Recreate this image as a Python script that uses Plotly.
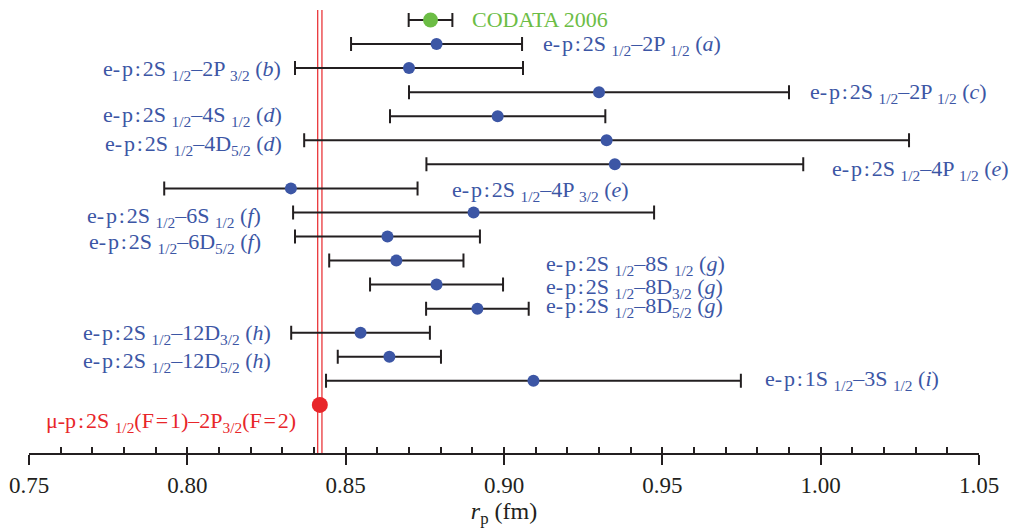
import plotly.graph_objects as go

# ---- data ----
HS = "\u200a"  # hair space
labels = [
    "CODATA 2006",
    f"e-{HS}p{HS}:{HS}2S <sub>1/2</sub>–2P <sub>1/2</sub> (<i>a</i>)",
    f"e-{HS}p{HS}:{HS}2S <sub>1/2</sub>–2P <sub>3/2</sub> (<i>b</i>)",
    f"e-{HS}p{HS}:{HS}2S <sub>1/2</sub>–2P <sub>1/2</sub> (<i>c</i>)",
    f"e-{HS}p{HS}:{HS}2S <sub>1/2</sub>–4S <sub>1/2</sub> (<i>d</i>)",
    f"e-{HS}p{HS}:{HS}2S <sub>1/2</sub>–4D<sub>5/2</sub> (<i>d</i>)",
    f"e-{HS}p{HS}:{HS}2S <sub>1/2</sub>–4P <sub>1/2</sub> (<i>e</i>)",
    f"e-{HS}p{HS}:{HS}2S <sub>1/2</sub>–4P <sub>3/2</sub> (<i>e</i>)",
    f"e-{HS}p{HS}:{HS}2S <sub>1/2</sub>–6S <sub>1/2</sub> (<i>f</i>)",
    f"e-{HS}p{HS}:{HS}2S <sub>1/2</sub>–6D<sub>5/2</sub> (<i>f</i>)",
    f"e-{HS}p{HS}:{HS}2S <sub>1/2</sub>–8S <sub>1/2</sub> (<i>g</i>)",
    f"e-{HS}p{HS}:{HS}2S <sub>1/2</sub>–8D<sub>3/2</sub> (<i>g</i>)",
    f"e-{HS}p{HS}:{HS}2S <sub>1/2</sub>–8D<sub>5/2</sub> (<i>g</i>)",
    f"e-{HS}p{HS}:{HS}2S <sub>1/2</sub>–12D<sub>3/2</sub> (<i>h</i>)",
    f"e-{HS}p{HS}:{HS}2S <sub>1/2</sub>–12D<sub>5/2</sub> (<i>h</i>)",
    f"e-{HS}p{HS}:{HS}1S <sub>1/2</sub>–3S <sub>1/2</sub> (<i>i</i>)",
    f"μ-p{HS}:{HS}2S <sub>1/2</sub>(F{HS}={HS}1)–2P<sub>3/2</sub>(F{HS}={HS}2)",
]
radius = [0.8768, 0.8787, 0.8700, 0.9300, 0.8980, 0.9324, 0.9350, 0.8327,
          0.8904, 0.8632, 0.8660, 0.8787, 0.8916, 0.8547, 0.8638, 0.9093, 0.84184]
err = [0.0069, 0.0270, 0.0360, 0.0600, 0.0340, 0.0955, 0.0595, 0.0400,
       0.0570, 0.0292, 0.0212, 0.0210, 0.0162, 0.0219, 0.0163, 0.0655, 0.00067]
kind = ["codata"] + ["ep"] * 15 + ["mup"]

tick_vals = [0.75, 0.80, 0.85, 0.90, 0.95, 1.00, 1.05]
tick_text = ["0.75", "0.80", "0.85", "0.90", "0.95", "1.00", "1.05"]

# ---- label placement (layout, not data) ----
# (anchor side, x position in axis units, vertical shift px; positive = up)
label_layout = [
    ("left", 0.8893, 0), ("left", 0.9117, -1), ("right", 0.8302, -2),
    ("left", 0.9960, -1), ("right", 0.8305, 0), ("right", 0.8305, -5),
    ("left", 1.0029, -6), ("left", 0.8829, -3), ("right", 0.8239, -5),
    ("right", 0.8239, -6), ("left", 0.9126, -4), ("left", 0.9126, -3),
    ("left", 0.9126, 2), ("right", 0.8271, -1), ("right", 0.8271, -5),
    ("left", 0.9818, 1), ("right", 0.8349, -17),
]

BLUE = "#3c56a5"
GREEN = "#6cbd45"
RED = "#e8262a"
BAR = "#231f20"
color_of = {"codata": GREEN, "ep": BLUE, "mup": RED}
size_of = {"codata": 15, "ep": 12, "mup": 16}
FONT = "Liberation Serif, Times New Roman, serif"

rows = list(range(len(radius)))

fig = go.Figure()
for k in ["ep", "codata", "mup"]:
    idx = [i for i in rows if kind[i] == k]
    fig.add_trace(go.Scatter(
        x=[radius[i] for i in idx], y=[rows[i] for i in idx],
        mode="markers",
        marker=dict(color=color_of[k], size=size_of[k], line=dict(width=0)),
        error_x=dict(type="data", array=[err[i] for i in idx], visible=(k != "mup"),
                     color=BAR, thickness=2, width=7),
        showlegend=False, hoverinfo="x",
    ))

# muonic hydrogen band (two thin red lines)
mu = radius[-1]
mu_e = err[-1]
for xv in (mu - mu_e, mu + mu_e):
    fig.add_shape(type="line", xref="x", yref="y", x0=xv, x1=xv, y0=18.0, y1=-0.42,
                  line=dict(color=RED, width=1.2), layer="below")

for i, (side, xa, ys) in enumerate(label_layout):
    fig.add_annotation(
        x=xa, y=rows[i], xref="x", yref="y", text=labels[i], showarrow=False,
        xanchor=side, yanchor="middle", yshift=ys,
        font=dict(family=FONT, size=22, color=color_of[kind[i]]),
    )

# invisible trace for the overlay axis carrying inner ticks
fig.add_trace(go.Scatter(x=[0.75, 1.05], y=[0, 0], xaxis="x2", mode="markers",
                         marker=dict(opacity=0), showlegend=False, hoverinfo="skip"))

fig.update_layout(
    width=1015, height=529,
    margin=dict(l=29, r=36, t=0, b=76),
    plot_bgcolor="white", paper_bgcolor="white",
    font=dict(family=FONT, color="#231f20"),
    xaxis=dict(
        range=[0.75, 1.05], showgrid=False, zeroline=False,
        showline=True, linecolor="#231f20", linewidth=2,
        tickvals=tick_vals, ticktext=tick_text,
        ticks="outside", ticklen=10, tickwidth=2, tickcolor="#231f20",
        tickfont=dict(size=23, family=FONT, color="#231f20"),
        title=dict(text="<i>r</i><sub>p</sub> (fm)", standoff=4,
                   font=dict(size=24, family=FONT, color="#231f20")),
    ),
    xaxis2=dict(
        matches="x", overlaying="x", anchor="y", side="bottom",
        showgrid=False, zeroline=False, showline=False,
        tick0=0.75, dtick=0.01, ticks="inside", ticklen=6, tickwidth=2,
        tickcolor="#231f20", showticklabels=False,
    ),
    yaxis=dict(range=[18.0, -0.831], visible=False, showgrid=False, zeroline=False),
)

fig.write_html("out.html")
